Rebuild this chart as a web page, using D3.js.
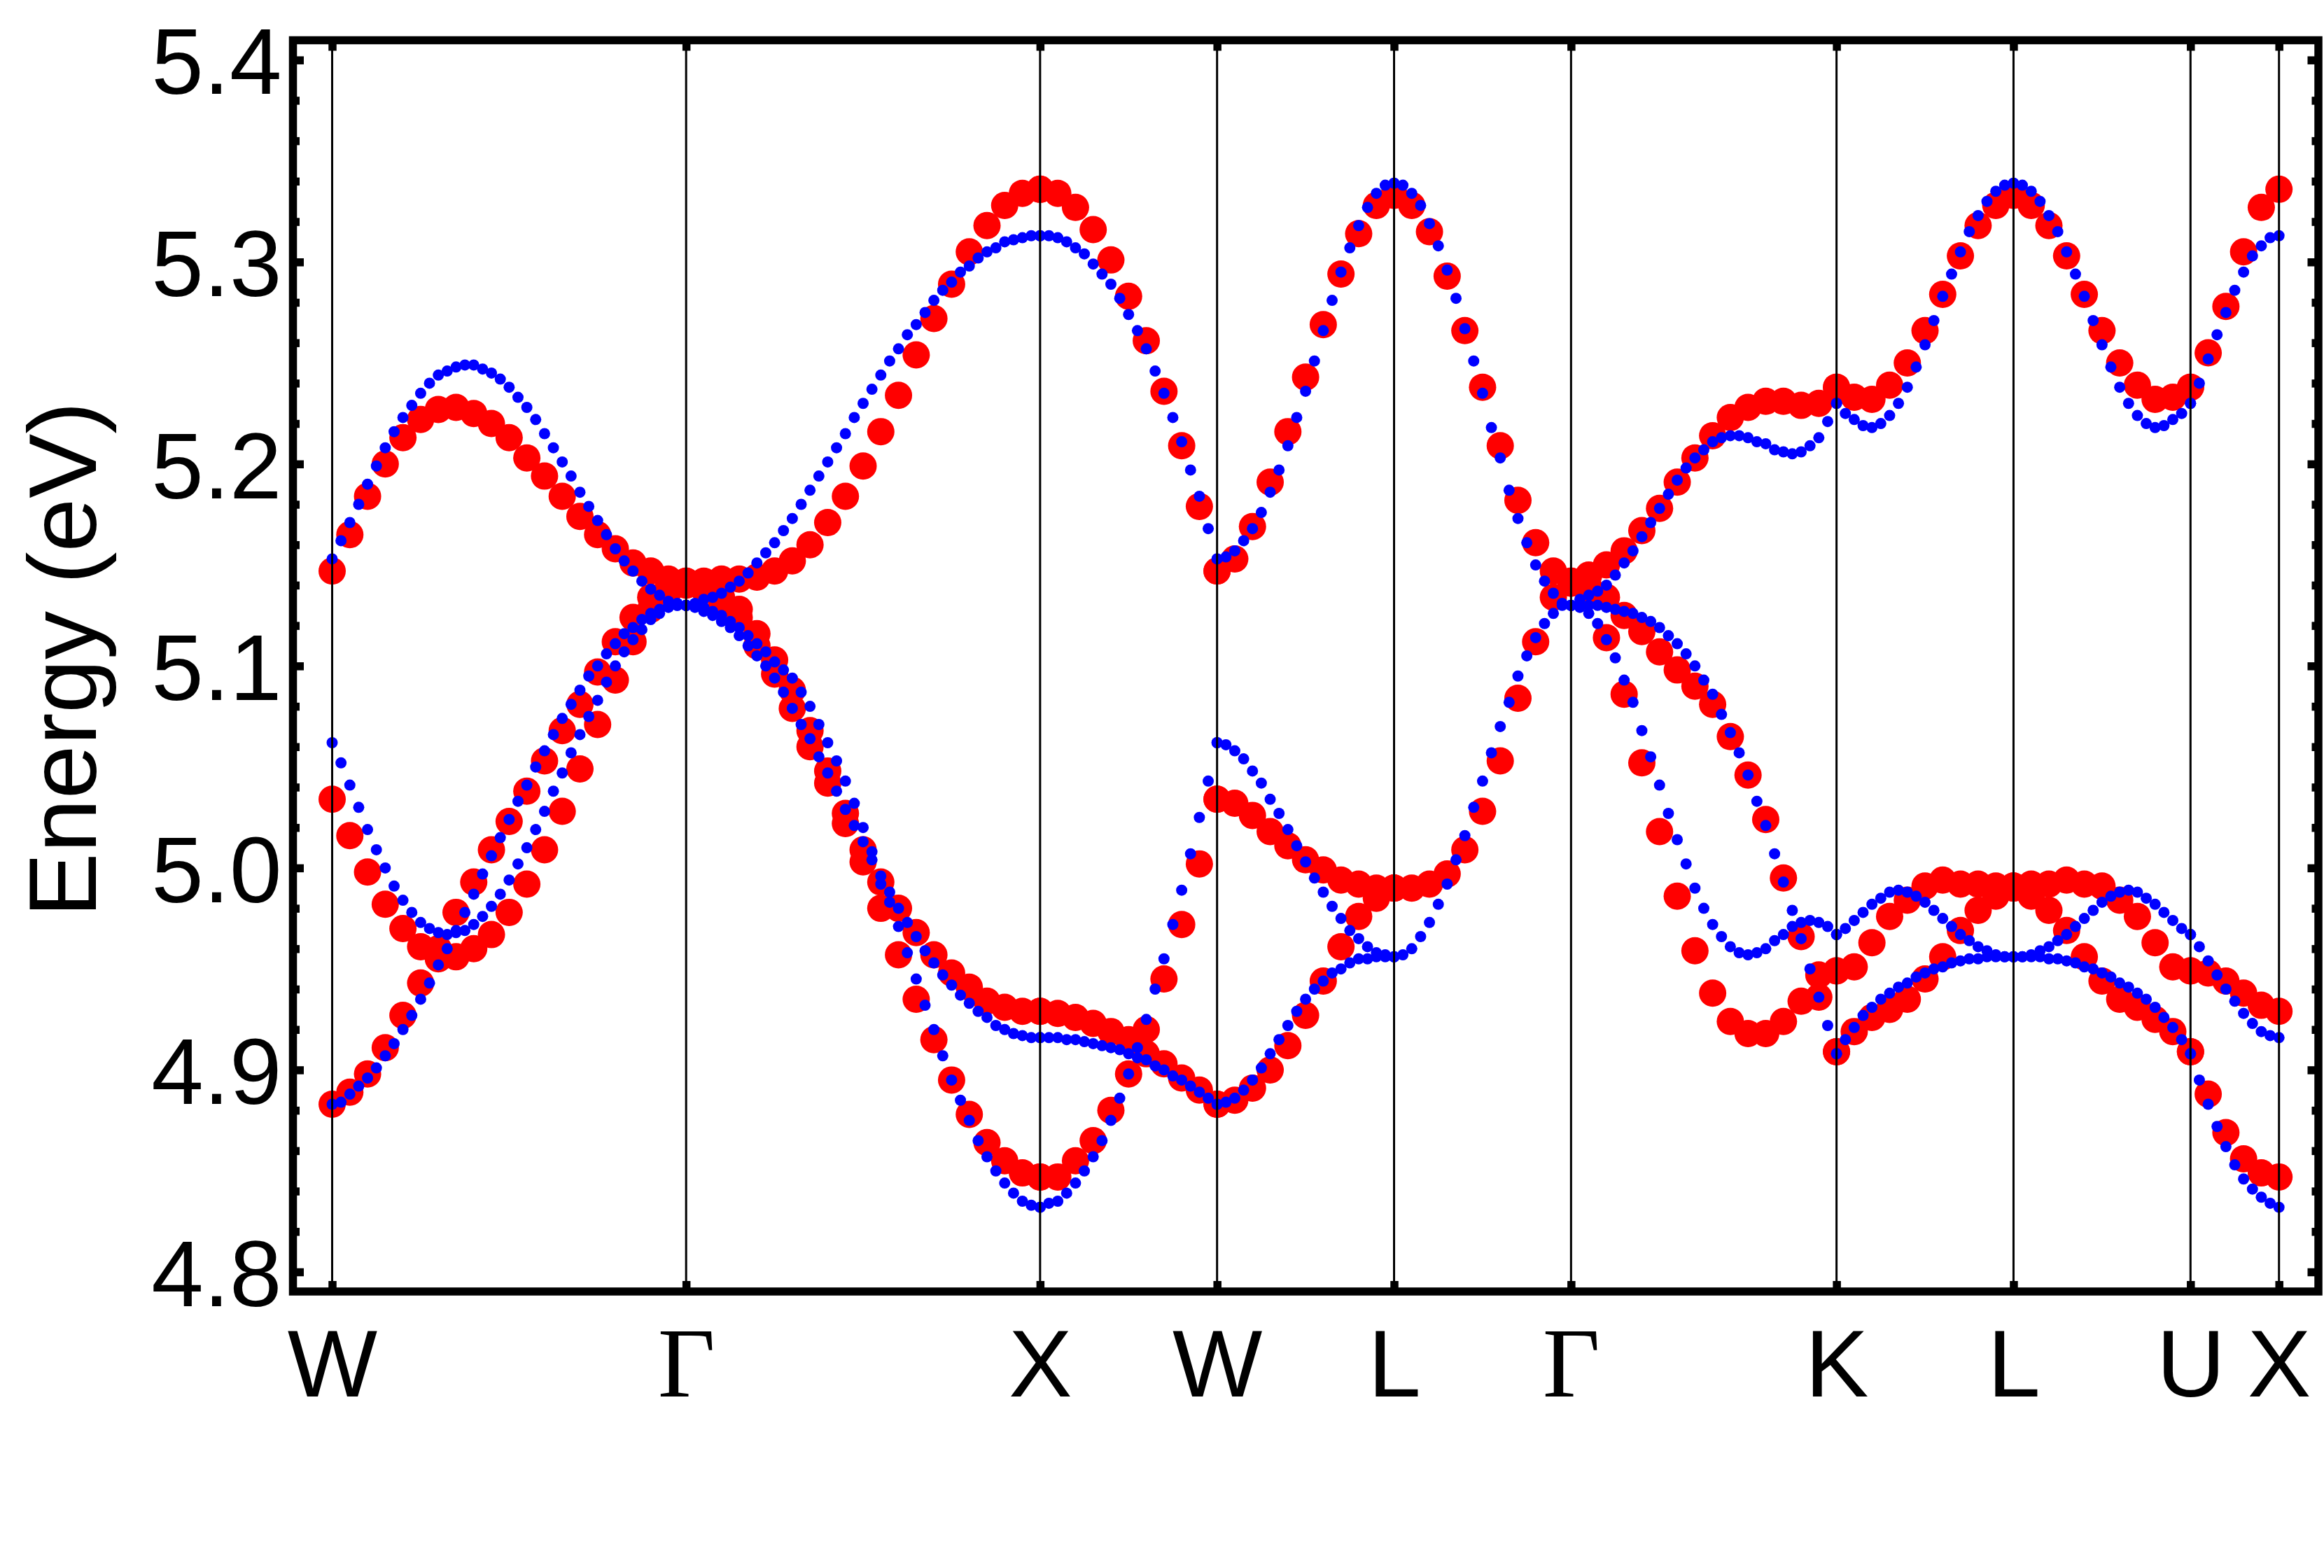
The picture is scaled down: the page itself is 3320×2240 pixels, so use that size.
<!DOCTYPE html>
<html>
<head>
<meta charset="utf-8">
<title>Band structure</title>
<script src="https://d3js.org/d3.v7.min.js"></script>
<style>
  html, body { margin: 0; padding: 0; background: #fff; }
  svg { display: block; }
  .axis text { fill: #000; }
</style>
</head>
<body>
<div id="chart"></div>
<script>
// k-path labels and their positions along the path
var kLabels = ["W", "Γ", "X", "W", "L", "Γ", "K", "L", "U", "X"];
var kPos = [0, 4, 8, 10, 12, 14, 17, 19, 21, 22];
var yTicks = [4.8, 4.9, 5.0, 5.1, 5.2, 5.3, 5.4];

// red: one point every 0.2 along the path, bands per segment (eV)
var redWG = [
  [5.147,5.165,5.184,5.200,5.213,5.222,5.227,5.228,5.225,5.220,5.213,5.203,5.194,5.184,5.174,5.165,5.158,5.151,5.147,5.143,5.142],
  [5.034,5.016,4.998,4.982,4.970,4.961,4.955,4.956,4.960,4.967,4.978,4.992,5.009,5.028,5.049,5.071,5.093,5.112,5.128,5.137,5.140],
  [4.883,4.889,4.898,4.911,4.927,4.943,4.960,4.978,4.993,5.009,5.023,5.038,5.053,5.068,5.081,5.097,5.112,5.124,5.134,5.139,5.141]
];
var redGX = [
  [5.142,5.142,5.143,5.143,5.144,5.147,5.152,5.160,5.171,5.184,5.199,5.216,5.234,5.254,5.272,5.289,5.305,5.318,5.328,5.334,5.336],
  [5.141,5.139,5.134,5.128,5.116,5.103,5.088,5.068,5.048,5.027,5.009,4.993,4.980,4.968,4.957,4.948,4.941,4.934,4.931,4.929,4.929],
  [5.141,5.138,5.131,5.124,5.110,5.096,5.079,5.060,5.042,5.022,5.003,4.980,4.957,4.935,4.915,4.895,4.878,4.864,4.855,4.849,4.847]
];
var redXW = [
  [5.336,5.334,5.327,5.316,5.301,5.283,5.261,5.236,5.209,5.179,5.147],
  [4.929,4.928,4.926,4.923,4.919,4.915,4.908,4.903,4.896,4.890,4.883],
  [4.847,4.847,4.855,4.865,4.880,4.898,4.920,4.945,4.972,5.002,5.034]
];
var redWL = [
  [5.147,5.153,5.169,5.191,5.216,5.243,5.269,5.294,5.314,5.328,5.333],
  [5.034,5.032,5.026,5.018,5.011,5.004,4.999,4.994,4.992,4.990,4.990],
  [4.883,4.885,4.891,4.900,4.912,4.927,4.944,4.961,4.976,4.985,4.990]
];
var redLG = [
  [5.333,5.328,5.315,5.293,5.266,5.238,5.209,5.182,5.161,5.147,5.142],
  [4.990,4.990,4.992,4.997,5.009,5.028,5.053,5.084,5.112,5.134,5.141]
];
var redGK = [
  [5.142,5.145,5.150,5.157,5.167,5.178,5.191,5.203,5.214,5.223,5.228,5.231,5.231,5.229,5.230,5.238],
  [5.141,5.139,5.134,5.125,5.117,5.107,5.098,5.090,5.081,5.065,5.046,5.024,4.995,4.966,4.936,4.909],
  [5.141,5.136,5.114,5.086,5.052,5.018,4.986,4.959,4.938,4.924,4.918,4.918,4.924,4.934,4.947,4.949]
];
var redKL = [
  [5.238,5.233,5.232,5.239,5.250,5.266,5.284,5.303,5.318,5.328,5.333],
  [4.949,4.951,4.963,4.976,4.984,4.991,4.994,4.992,4.992,4.991,4.991],
  [4.909,4.919,4.926,4.930,4.935,4.945,4.956,4.969,4.979,4.986,4.990]
];
var redLU = [
  [5.333,5.328,5.318,5.303,5.284,5.266,5.250,5.239,5.232,5.233,5.238],
  [4.991,4.992,4.992,4.994,4.992,4.991,4.984,4.976,4.963,4.951,4.949],
  [4.990,4.986,4.979,4.969,4.956,4.944,4.935,4.931,4.925,4.919,4.909]
];
var redUX = [
  [5.238,5.255,5.278,5.305,5.327,5.336],
  [4.949,4.948,4.944,4.938,4.932,4.929],
  [4.909,4.888,4.869,4.856,4.849,4.847]
];

// blue: one point every 0.1 along the path
var blueWG = [
  [5.153,5.162,5.171,5.180,5.190,5.199,5.208,5.216,5.223,5.229,5.235,5.240,5.244,5.246,5.248,5.249,5.249,5.247,5.245,5.242,5.238,5.233,5.228,5.222,5.215,5.208,5.201,5.194,5.186,5.179,5.172,5.165,5.158,5.152,5.147,5.142,5.138,5.135,5.132,5.131,5.130],
  [5.062,5.052,5.041,5.030,5.019,5.009,5.000,4.991,4.984,4.978,4.973,4.970,4.968,4.967,4.968,4.969,4.972,4.976,4.981,4.987,4.994,5.002,5.010,5.019,5.028,5.038,5.047,5.057,5.066,5.075,5.083,5.092,5.100,5.107,5.113,5.118,5.123,5.126,5.129,5.130,5.130],
  [4.883,4.884,4.888,4.892,4.896,4.901,4.907,4.913,4.920,4.927,4.935,4.943,4.952,4.960,4.969,4.978,4.987,4.997,5.006,5.015,5.024,5.033,5.041,5.050,5.058,5.066,5.074,5.081,5.088,5.095,5.100,5.106,5.111,5.116,5.119,5.123,5.126,5.128,5.130,5.130,5.130]
];
var blueGX = [
  [5.130,5.131,5.133,5.134,5.136,5.139,5.142,5.146,5.151,5.156,5.161,5.167,5.173,5.180,5.187,5.194,5.201,5.208,5.215,5.223,5.230,5.237,5.244,5.251,5.257,5.264,5.269,5.275,5.281,5.286,5.290,5.295,5.298,5.302,5.305,5.307,5.310,5.311,5.312,5.313,5.313],
  [5.130,5.130,5.129,5.127,5.125,5.122,5.119,5.115,5.111,5.107,5.102,5.098,5.094,5.087,5.080,5.071,5.062,5.053,5.043,5.032,5.020,5.008,4.996,4.988,4.980,4.973,4.966,4.959,4.953,4.947,4.942,4.937,4.933,4.929,4.926,4.922,4.920,4.918,4.917,4.916,4.916],
  [5.130,5.129,5.127,5.125,5.122,5.119,5.115,5.110,5.105,5.100,5.094,5.087,5.079,5.071,5.064,5.055,5.047,5.038,5.029,5.021,5.013,5.004,4.992,4.983,4.971,4.958,4.945,4.932,4.920,4.907,4.895,4.885,4.875,4.865,4.857,4.850,4.844,4.839,4.835,4.833,4.832]
];
var blueXW = [
  [5.313,5.313,5.312,5.310,5.307,5.304,5.299,5.294,5.289,5.282,5.274,5.266,5.257,5.246,5.235,5.223,5.211,5.197,5.184,5.168,5.153],
  [4.916,4.916,4.916,4.915,4.915,4.914,4.913,4.912,4.911,4.910,4.908,4.906,4.905,4.902,4.900,4.897,4.895,4.892,4.889,4.886,4.883],
  [4.832,4.834,4.835,4.839,4.844,4.850,4.857,4.865,4.875,4.886,4.898,4.911,4.925,4.940,4.955,4.972,4.989,5.007,5.025,5.043,5.062]
];
var blueWL = [
  [5.153,5.154,5.157,5.162,5.168,5.176,5.186,5.197,5.209,5.223,5.236,5.251,5.266,5.281,5.295,5.307,5.318,5.327,5.334,5.338,5.339],
  [5.062,5.061,5.058,5.054,5.048,5.042,5.034,5.027,5.019,5.011,5.003,4.995,4.988,4.981,4.975,4.969,4.965,4.961,4.958,4.957,4.956],
  [4.883,4.884,4.886,4.890,4.895,4.901,4.908,4.915,4.922,4.929,4.935,4.940,4.944,4.948,4.950,4.953,4.955,4.955,4.956,4.956,4.956]
];
var blueLG = [
  [5.339,5.338,5.334,5.328,5.319,5.308,5.296,5.282,5.267,5.251,5.235,5.218,5.203,5.187,5.173,5.161,5.150,5.142,5.136,5.131,5.130],
  [4.956,4.957,4.960,4.966,4.973,4.982,4.992,5.004,5.016,5.030,5.043,5.057,5.070,5.082,5.095,5.105,5.114,5.121,5.126,5.130,5.130]
];
var blueGK = [
  [5.130,5.133,5.135,5.137,5.140,5.145,5.151,5.157,5.164,5.171,5.178,5.185,5.192,5.198,5.203,5.207,5.211,5.213,5.214,5.214,5.213,5.211,5.210,5.207,5.206,5.205,5.206,5.209,5.213,5.221,5.230],
  [5.130,5.130,5.130,5.130,5.129,5.128,5.127,5.126,5.124,5.122,5.119,5.115,5.111,5.106,5.100,5.093,5.086,5.076,5.067,5.057,5.046,5.033,5.021,5.007,4.993,4.979,4.965,4.950,4.936,4.922,4.908],
  [5.130,5.129,5.126,5.121,5.113,5.104,5.093,5.082,5.068,5.055,5.041,5.027,5.014,5.002,4.990,4.980,4.972,4.966,4.961,4.958,4.957,4.958,4.960,4.964,4.967,4.971,4.973,4.974,4.973,4.971,4.967]
];
var blueKL = [
  [5.230,5.225,5.222,5.219,5.218,5.220,5.224,5.230,5.238,5.248,5.259,5.271,5.283,5.294,5.305,5.315,5.323,5.330,5.335,5.338,5.339],
  [4.967,4.970,4.974,4.978,4.982,4.985,4.988,4.989,4.988,4.986,4.983,4.979,4.975,4.971,4.967,4.964,4.961,4.959,4.957,4.956,4.956],
  [4.908,4.915,4.921,4.927,4.931,4.935,4.938,4.941,4.943,4.946,4.948,4.950,4.951,4.953,4.954,4.955,4.955,4.956,4.956,4.956,4.956]
];
var blueLU = [
  [5.339,5.338,5.335,5.330,5.323,5.315,5.305,5.294,5.283,5.271,5.259,5.248,5.238,5.230,5.224,5.220,5.218,5.219,5.222,5.225,5.230],
  [4.956,4.956,4.957,4.959,4.961,4.964,4.967,4.971,4.975,4.979,4.983,4.986,4.988,4.989,4.988,4.985,4.982,4.978,4.974,4.970,4.967],
  [4.956,4.956,4.956,4.956,4.955,4.955,4.954,4.953,4.951,4.950,4.948,4.946,4.943,4.941,4.938,4.935,4.931,4.926,4.921,4.915,4.908]
];
var blueUX = [
  [5.230,5.240,5.252,5.264,5.275,5.286,5.295,5.303,5.308,5.312,5.313],
  [4.967,4.961,4.954,4.947,4.940,4.934,4.928,4.923,4.919,4.917,4.916],
  [4.908,4.895,4.883,4.872,4.862,4.853,4.846,4.841,4.837,4.834,4.832]
];

var segments = [
  {from: 0,  to: 4,  red: redWG, blue: blueWG},
  {from: 4,  to: 8,  red: redGX, blue: blueGX},
  {from: 8,  to: 10, red: redXW, blue: blueXW},
  {from: 10, to: 12, red: redWL, blue: blueWL},
  {from: 12, to: 14, red: redLG, blue: blueLG},
  {from: 14, to: 17, red: redGK, blue: blueGK},
  {from: 17, to: 19, red: redKL, blue: blueKL},
  {from: 19, to: 21, red: redLU, blue: blueLU},
  {from: 21, to: 22, red: redUX, blue: blueUX}
];

// flatten segment bands into points
function points(key) {
  var out = [];
  segments.forEach(function(s) {
    s[key].forEach(function(band) {
      var n = band.length - 1;
      band.forEach(function(e, i) {
        out.push({k: s.from + (s.to - s.from) * i / n, e: e});
      });
    });
  });
  return out;
}

var sans = "'Liberation Sans', Arial, Helvetica, sans-serif";
var serif = "'Liberation Serif', 'Times New Roman', Times, serif";

var width = 3320, height = 2240;
var frame = {left: 418.5, right: 3312, top: 57.5, bottom: 1845};

var x = d3.scaleLinear().domain([0, 22]).range([474.5, 3255.7]);
var y = d3.scaleLinear().domain([4.8, 5.4]).range([1817, 85.7]);

var svg = d3.select("#chart").append("svg")
  .attr("width", width)
  .attr("height", height);

svg.append("rect").attr("width", width).attr("height", height).attr("fill", "#fff");

// dots
svg.append("g").selectAll("circle")
  .data(points("red"))
  .enter().append("circle")
  .attr("cx", function(d) { return x(d.k); })
  .attr("cy", function(d) { return y(d.e); })
  .attr("r", 19.5)
  .attr("fill", "#ff0000");

svg.append("g").selectAll("circle")
  .data(points("blue"))
  .enter().append("circle")
  .attr("cx", function(d) { return x(d.k); })
  .attr("cy", function(d) { return y(d.e); })
  .attr("r", 8)
  .attr("fill", "#0000ff");

// high-symmetry lines
svg.append("g").selectAll("line")
  .data(kPos)
  .enter().append("line")
  .attr("x1", function(d) { return x(d); })
  .attr("x2", function(d) { return x(d); })
  .attr("y1", frame.top)
  .attr("y2", frame.bottom)
  .attr("stroke", "#000")
  .attr("stroke-width", 3);

// frame ticks
var minor = d3.range(4.8, 5.4001, 0.02).filter(function(v) {
  return Math.abs(Math.round(v * 10) - v * 10) > 0.01;
});

function styleAxis(g) {
  g.select(".domain").remove();
  g.selectAll(".tick line").attr("stroke", "#000").attr("stroke-width", 11.5);
}

svg.append("g").attr("class", "axis")
  .attr("transform", "translate(" + frame.left + ",0)")
  .call(d3.axisLeft(y).tickValues(yTicks).tickSize(-15.5).tickPadding(16)
    .tickFormat(d3.format(".1f")))
  .call(styleAxis)
  .selectAll("text")
  .style("font-family", sans)
  .style("font-size", "134px")
  .attr("dy", "0.36em");

svg.append("g")
  .attr("transform", "translate(" + frame.left + ",0)")
  .call(d3.axisLeft(y).tickValues(minor).tickSize(-9.5).tickFormat(""))
  .call(styleAxis);

svg.append("g")
  .attr("transform", "translate(" + frame.right + ",0)")
  .call(d3.axisRight(y).tickValues(yTicks).tickSize(-15.5).tickFormat(""))
  .call(styleAxis);

svg.append("g")
  .attr("transform", "translate(" + frame.right + ",0)")
  .call(d3.axisRight(y).tickValues(minor).tickSize(-9.5).tickFormat(""))
  .call(styleAxis);

var bottom = svg.append("g").attr("class", "axis")
  .attr("transform", "translate(0," + frame.bottom + ")")
  .call(d3.axisBottom(x).tickValues(kPos).tickSize(-15)
    .tickFormat(function(d, i) { return kLabels[i]; }))
  .call(styleAxis);

bottom.selectAll("text")
  .attr("y", 150)
  .attr("dy", 0)
  .style("font-size", function(d, i) { return kLabels[i] === "Γ" ? "142px" : "136px"; })
  .style("font-family", function(d, i) { return kLabels[i] === "Γ" ? serif : sans; });

svg.append("g")
  .attr("transform", "translate(0," + frame.top + ")")
  .call(d3.axisTop(x).tickValues(kPos).tickSize(-15).tickFormat(""))
  .call(styleAxis);

// frame
svg.append("rect")
  .attr("x", frame.left)
  .attr("y", frame.top)
  .attr("width", frame.right - frame.left)
  .attr("height", frame.bottom - frame.top)
  .attr("fill", "none")
  .attr("stroke", "#000")
  .attr("stroke-width", 11.5);

// y label
svg.append("text")
  .attr("transform", "translate(137,942) rotate(-90)")
  .attr("text-anchor", "middle")
  .style("font-family", sans)
  .style("font-size", "138px")
  .text("Energy (eV)");
</script>
</body>
</html>
